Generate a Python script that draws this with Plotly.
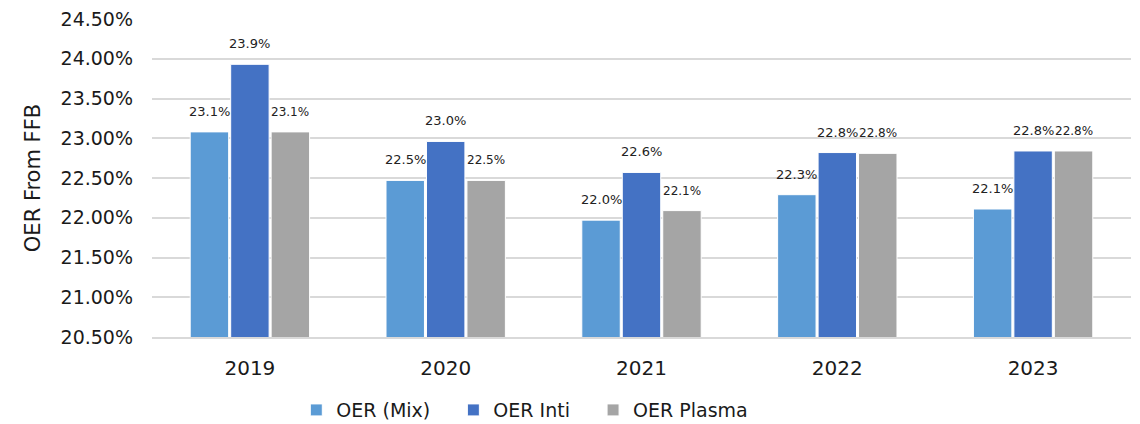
import plotly.graph_objects as go

years = ["2019", "2020", "2021", "2022", "2023"]
oer_mix = [23.08, 22.47, 21.97, 22.29, 22.11]
oer_inti = [23.93, 22.96, 22.57, 22.82, 22.84]
oer_plasma = [23.08, 22.47, 22.09, 22.81, 22.84]

series = [
    ("OER (Mix)", oer_mix, "#5B9BD5", 13, -40.5),
    ("OER Inti", oer_inti, "#4472C4", 13, 0),
    ("OER Plasma", oer_plasma, "#A5A5A5", 12, 40.5),
]

FONT = "DejaVu Sans"
PAD = "\u00a0\u00a0\u00a0"
fig = go.Figure()
for name, vals, color, fs, dx in series:
    fig.add_trace(go.Bar(
        name=name + PAD, x=years, y=vals,
        marker=dict(color=color, line=dict(color="white", width=1)),
    ))
    for i, v in enumerate(vals):
        fig.add_annotation(
            x=i, y=v, text=f"{v:.1f}%", showarrow=False,
            xanchor="center", yanchor="bottom", xshift=dx, yshift=11,
            font=dict(family=FONT, size=fs, color="#222222"),
        )

fig.update_layout(
    width=1140, height=424,
    margin=dict(l=152, r=9, t=19, b=87, autoexpand=False),
    plot_bgcolor="white", paper_bgcolor="white",
    barmode="group", bargap=0.38, bargroupgap=0.05,
    font=dict(family=FONT, color="#1a1a1a"),
    legend=dict(orientation="h", x=0.39, xanchor="center", y=-0.17, yanchor="top",
                font=dict(size=19, family=FONT), itemwidth=30, traceorder="normal"),
)
fig.update_yaxes(
    range=[20.5, 24.5], dtick=0.5, tickformat=".2f", ticksuffix="%",
    showgrid=True, gridcolor="#d9d9d9", gridwidth=1.5,
    zeroline=False, showline=False, automargin=False,
    tickfont=dict(size=19, family=FONT), ticklabelstandoff=18,
    title=dict(text="OER From FFB", font=dict(size=21, family=FONT), standoff=14),
)
fig.update_xaxes(
    type="category", range=[-0.5, len(years) - 0.5],
    showline=True, linecolor="#d9d9d9", linewidth=1.5, automargin=False,
    tickfont=dict(size=20, family=FONT), ticks="", ticklabelstandoff=12,
)
fig.write_html("out.html", config={"displayModeBar": False},
               post_script="document.body.style.margin='0';document.body.style.overflow='hidden';")
